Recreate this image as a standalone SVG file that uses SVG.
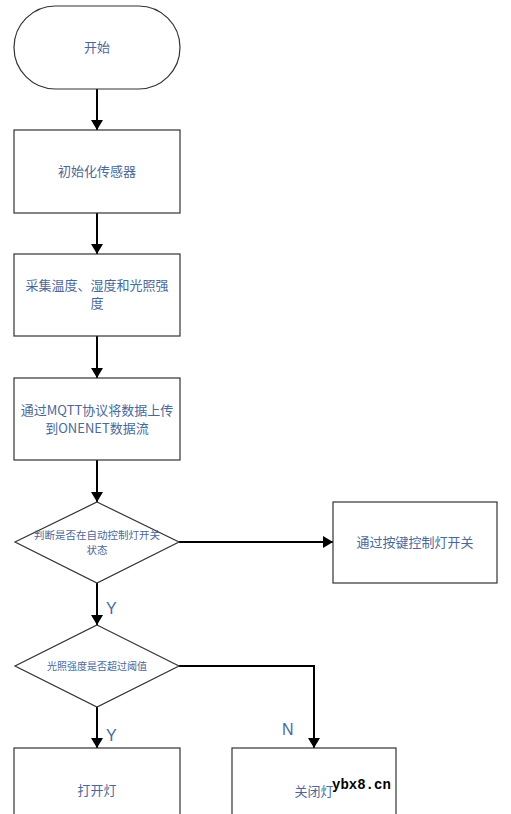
<svg xmlns="http://www.w3.org/2000/svg" width="511" height="814" viewBox="0 0 511 814">
<style>
.shape{fill:#fff;stroke:#333;stroke-width:1.2}
.t{font-family:"Noto Sans CJK SC","Liberation Sans",sans-serif;font-size:13px;fill:#4a6898;text-anchor:middle}
.s{font-size:10.5px}
.s2{font-size:10px}
.lbl{font-family:"Liberation Sans",sans-serif;font-size:16px;fill:#4a6898}
.c{fill:none;stroke:#000;stroke-width:2;marker-end:url(#ah)}
.wm{font-family:"Liberation Mono",monospace;font-size:14px;font-weight:bold;fill:#000}
</style>
<defs>
<marker id="ah" markerWidth="10" markerHeight="12" refX="10" refY="6" orient="auto" markerUnits="userSpaceOnUse">
<path d="M0,0 L10,6 L0,12 Z" fill="#000"/>
</marker>
</defs>
<rect width="511" height="814" fill="#fff"/>
<g id="connectors">
<path class="c" d="M97,89 V130"/>
<path class="c" d="M97,213 V254"/>
<path class="c" d="M97,336 V378"/>
<path class="c" d="M97,460 V502"/>
<path class="c" d="M179,542 H333"/>
<path class="c" d="M97,583 V625"/>
<path class="c" d="M97,707 V748"/>
<path class="c" d="M179,666 H314 V748"/>
<text class="lbl" x="106" y="614">Y</text>
<text class="lbl" x="106" y="741">Y</text>
<text class="lbl" x="282" y="735">N</text>
</g>
<g id="start">
<rect class="shape" x="14" y="6" width="166" height="83" rx="41.5"/>
<text class="t" x="97" y="52">开始</text>
</g>
<g id="init">
<rect class="shape" x="14" y="130" width="166" height="83"/>
<text class="t" x="97" y="176">初始化传感器</text>
</g>
<g id="collect">
<rect class="shape" x="14" y="254" width="166" height="82"/>
<text class="t" x="97" y="290">采集温度、湿度和光照强</text>
<text class="t" x="97" y="308">度</text>
</g>
<g id="upload">
<rect class="shape" x="14" y="378" width="166" height="82"/>
<text class="t" x="97" y="415">通过MQTT协议将数据上传</text>
<text class="t" x="97" y="433">到ONENET数据流</text>
</g>
<g id="decision1">
<polygon class="shape" points="97,502 179,542 97,583 15,542"/>
<text class="t s" x="97" y="539">判断是否在自动控制灯开关</text>
<text class="t s" x="97" y="554">状态</text>
</g>
<g id="manual">
<rect class="shape" x="333" y="502" width="164" height="81"/>
<text class="t" x="415" y="547">通过按键控制灯开关</text>
</g>
<g id="decision2">
<polygon class="shape" points="97,625 179,666 97,707 15,666"/>
<text class="t s2" x="97" y="670">光照强度是否超过阈值</text>
</g>
<g id="on">
<rect class="shape" x="14" y="748" width="166" height="80"/>
<text class="t" x="97" y="795">打开灯</text>
</g>
<g id="off">
<rect class="shape" x="232" y="748" width="164" height="80"/>
<text class="t" x="314" y="796">关闭灯</text>
</g>
<text class="wm" x="332" y="789">ybx8.cn</text>
</svg>
